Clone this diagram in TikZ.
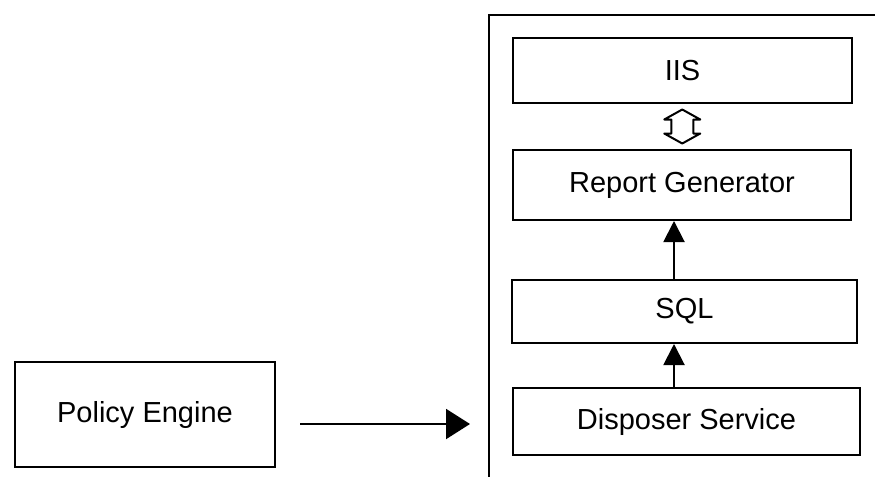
\documentclass[tikz,border=0pt]{standalone}
\usepackage{fontspec}
\setmainfont{Liberation Sans}
\usetikzlibrary{arrows.meta,calc}
\begin{document}
\begin{tikzpicture}[x=1pt,y=-1pt,
  box/.style={draw=black, line width=2pt, fill=white, inner sep=0pt,
    font=\fontsize{29}{34}\selectfont},
  link/.style={line width=2pt, -{Triangle[length=21pt,width=21pt]}},
  twoway/.style={draw=black, line width=2pt, fill=white, line join=round},
  frame/.style={line width=2.5pt}]
  \useasboundingbox (0,0) rectangle (875,477);

  % enclosing server frame, open to the right and below
  \draw[frame] (875,15) -- (489,15) -- (489,477);

  % server components
  \node[box, minimum width=339pt, minimum height=65pt] (iis) at (682.5,70.5) {IIS};
  \node[box, minimum width=338pt, minimum height=70pt] (rg) at (682,185) {Report Generator};
  \node[box, minimum width=345pt, minimum height=63pt] (sql) at (684.5,311.5) {SQL};
  \node[box, minimum width=347pt, minimum height=67pt] (ds) at (686.5,421.5) {Disposer Service};

  % external engine
  \node[box, minimum width=260pt, minimum height=105pt] (pe) at (145,414.5) {Policy Engine};

  % two-way block arrow between IIS and the report generator
  \coordinate (bi) at ($(iis.south)!0.5!(rg.north)$);
  \draw[twoway] ($(bi)+(0,-17)$) -- ++(18,10) -- ++(-7,0) -- ++(0,14)
    -- ++(7,0) -- ++(-18,10) -- ++(-18,-10) -- ++(7,0) -- ++(0,-14)
    -- ++(-7,0) -- cycle;

  % data flow
  \draw[link] (ds.north -| 674,0) -- (sql.south -| 674,0);
  \draw[link] (sql.north -| 674,0) -- (rg.south -| 674,0);

  \coordinate (peout) at (300,424);
  \coordinate (petip) at (470,424);
  \draw[link, -{Triangle[length=24pt,width=30pt]}] (peout) -- (petip);
\end{tikzpicture}
\end{document}
